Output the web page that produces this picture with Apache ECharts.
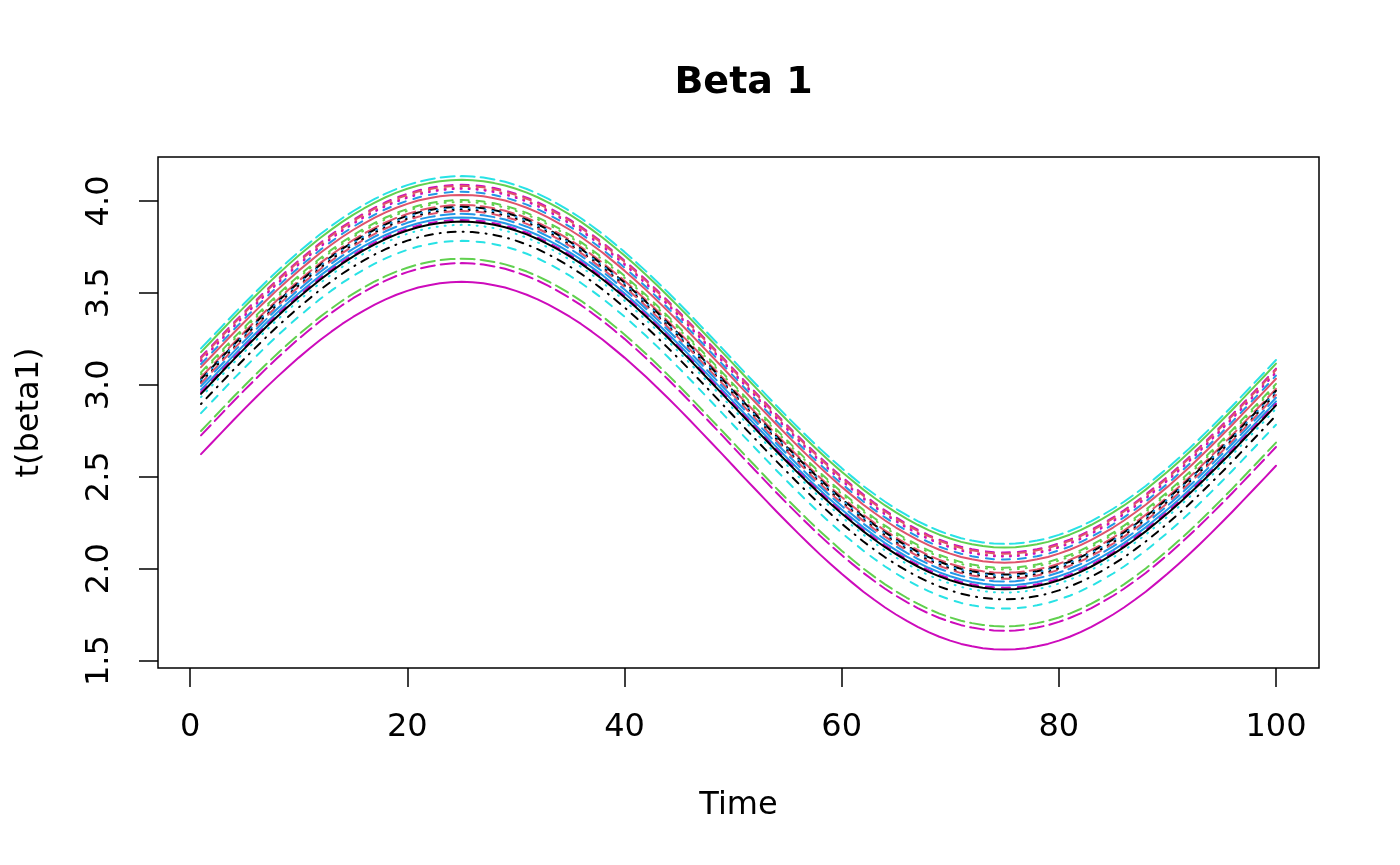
<!DOCTYPE html>
<html><head><meta charset="utf-8">
<script src="https://cdn.jsdelivr.net/npm/echarts@6/dist/echarts.min.js"></script>
<style>html,body{margin:0;padding:0;background:#fff}#c{width:1400px;height:865px}</style>
</head><body><div id="c"></div>
<script>
// Time points
const time = [1,2,3,4,5,6,7,8,9,10,11,12,13,14,15,16,17,18,19,20,21,22,23,24,25,26,27,28,29,30,
31,32,33,34,35,36,37,38,39,40,41,42,43,44,45,46,47,48,49,50,51,52,53,54,55,56,57,58,59,60,
61,62,63,64,65,66,67,68,69,70,71,72,73,74,75,76,77,78,79,80,81,82,83,84,85,86,87,88,89,90,
91,92,93,94,95,96,97,98,99,100];
// common wave shape (deviation from each curve's level)
const shape = [0.063,0.125,0.187,0.249,0.309,0.368,0.426,0.482,0.536,0.588,
0.637,0.685,0.729,0.771,0.809,0.844,0.876,0.905,0.930,0.951,
0.969,0.982,0.992,0.998,1.000,0.998,0.992,0.982,0.969,0.951,
0.930,0.905,0.876,0.844,0.809,0.771,0.729,0.685,0.637,0.588,
0.536,0.482,0.426,0.368,0.309,0.249,0.187,0.125,0.063,0.000,
-0.063,-0.125,-0.187,-0.249,-0.309,-0.368,-0.426,-0.482,-0.536,-0.588,
-0.637,-0.685,-0.729,-0.771,-0.809,-0.844,-0.876,-0.905,-0.930,-0.951,
-0.969,-0.982,-0.992,-0.998,-1.000,-0.998,-0.992,-0.982,-0.969,-0.951,
-0.930,-0.905,-0.876,-0.844,-0.809,-0.771,-0.729,-0.685,-0.637,-0.588,
-0.536,-0.482,-0.426,-0.368,-0.309,-0.249,-0.187,-0.125,-0.063,0.000];
// level of each curve
const levels = [3.135,3.115,3.088,3.082,3.072,3.066,3.050,3.033,3.005,2.995,2.978,2.968,2.962,
2.952,2.945,2.930,2.910,2.897,2.888,2.870,2.833,2.783,2.686,2.662,2.560];
const seriesColors = ['cyan','green','magenta','red','red','magenta','blue','red','green','green','red','black','blue',
'black','red','blue','blue','magenta','black','cyan','black','cyan','green','magenta','magenta'];
const seriesLty = ['longdash','solid','dashed','dashed','dotted','dotted','dashed','solid','dashed','dotted','longdash','dashed','dotted',
'dotted','dashed','longdash','solid','dashed','solid','dotted','dotdash','dashed','longdash','longdash','solid'];
const xTicks = [0,20,40,60,80,100];
const yTicks = [1.5,2.0,2.5,3.0,3.5,4.0];

const palette = {black:'#000000',red:'#DF536B',green:'#61D04F',blue:'#2297E6',cyan:'#28E2E5',magenta:'#CD0BBC'};
const dashes = {solid:'solid',dashed:[8,8],dotted:[1,7],dotdash:[1,7,8,7],longdash:[14,6]};
const FONT = 'DejaVu Sans';

const series = levels.map((lv, i) => ({
  type: 'line',
  showSymbol: false,
  silent: true,
  animation: false,
  data: time.map((t, k) => [t, lv + shape[k]]),
  lineStyle: {color: palette[seriesColors[i]], width: 2, type: dashes[seriesLty[i]], cap: 'round', join: 'round'}
}));

const chart = echarts.init(document.getElementById('c'), null, {renderer: 'canvas'});
chart.setOption({
  backgroundColor: '#fff',
  animation: false,
  title: {
    text: 'Beta 1', left: 738.5, top: 59, textAlign: 'center',
    textStyle: {fontFamily: FONT, fontWeight: 'bold', fontSize: 38, color: '#000'}
  },
  grid: {left: 158, top: 157, width: 1161, height: 511, show: true, borderColor: '#000', borderWidth: 1.5, backgroundColor: 'transparent'},
  xAxis: {
    type: 'value', min: -2.96, max: 103.96,
    name: 'Time', nameLocation: 'middle', nameGap: 122,
    nameTextStyle: {fontFamily: FONT, fontSize: 32, color: '#000'},
    axisLine: {show: false, onZero: false},
    splitLine: {show: false},
    axisTick: {show: true, inside: false, length: 19, lineStyle: {color: '#000', width: 1.5}, customValues: xTicks},
    axisLabel: {margin: 44, fontFamily: FONT, fontSize: 32, color: '#000', customValues: xTicks, formatter: v => String(v)}
  },
  yAxis: {
    type: 'value', min: 1.46, max: 4.239,
    name: 't(beta1)', nameLocation: 'middle', nameGap: 112, nameRotate: 90,
    nameTextStyle: {fontFamily: FONT, fontSize: 32, color: '#000'},
    axisLine: {show: false, onZero: false},
    splitLine: {show: false},
    axisTick: {show: true, inside: false, length: 19, lineStyle: {color: '#000', width: 1.5}, customValues: yTicks},
    axisLabel: {margin: 42, rotate: 90, fontFamily: FONT, fontSize: 32, color: '#000', customValues: yTicks, formatter: v => v.toFixed(1)}
  },
  series: series
});
</script></body></html>
